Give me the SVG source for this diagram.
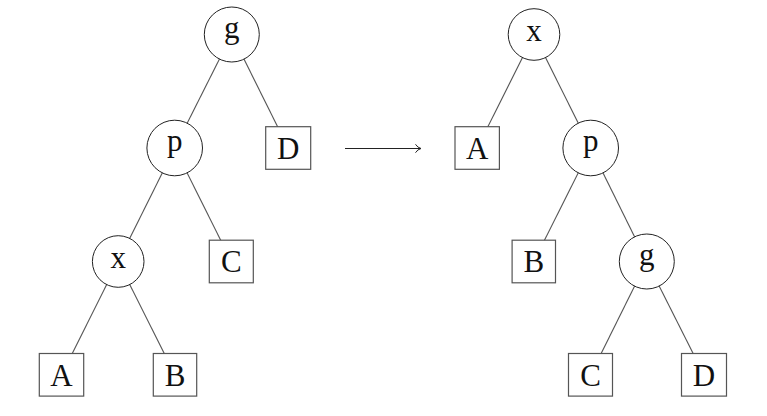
<svg xmlns="http://www.w3.org/2000/svg" width="767" height="416" viewBox="0 0 767 416">
<style>
.e{stroke:#555;stroke-width:1.1;fill:none}
.c{fill:#fff;stroke:#222;stroke-width:1}
.b{fill:#fff;stroke:#555;stroke-width:1.2}
text{font-family:"Liberation Serif","Times New Roman",serif;font-size:31px;fill:#111;text-anchor:middle}
</style>
<rect width="767" height="416" fill="#fff"/>
<g id="connectors">
<line class="e" x1="231.8" y1="34.5" x2="174.7" y2="148"/>
<line class="e" x1="231.8" y1="34.5" x2="288.2" y2="148"/>
<line class="e" x1="174.7" y1="148" x2="118.2" y2="261.5"/>
<line class="e" x1="174.7" y1="148" x2="231.3" y2="261.5"/>
<line class="e" x1="118.2" y1="261.5" x2="61.5" y2="375"/>
<line class="e" x1="118.2" y1="261.5" x2="175" y2="375"/>
<line class="e" x1="534" y1="34.5" x2="477.2" y2="148"/>
<line class="e" x1="534" y1="34.5" x2="590.7" y2="148"/>
<line class="e" x1="590.7" y1="148" x2="533.8" y2="261.5"/>
<line class="e" x1="590.7" y1="148" x2="646.8" y2="261.5"/>
<line class="e" x1="646.8" y1="261.5" x2="590.5" y2="375"/>
<line class="e" x1="646.8" y1="261.5" x2="704" y2="375"/>
<g id="arrow">
<line x1="345" y1="148.5" x2="420.5" y2="148.5" stroke="#222" stroke-width="1"/>
<path d="M415.5,144.3 Q417.5,147.6 421,148.5 Q417.5,149.4 415.5,152.7" fill="none" stroke="#222" stroke-width="1"/>
</g>
</g>
<g id="L-g"><circle class="c" cx="231.8" cy="34.5" r="27.5"/><text x="231.8" y="37.5">g</text></g>
<g id="L-p"><circle class="c" cx="174.7" cy="148" r="27.8"/><text x="174.7" y="151">p</text></g>
<g id="L-D"><rect class="b" x="265.7" y="126.7" width="45" height="42.6"/><text x="288.2" y="158.8">D</text></g>
<g id="L-x"><circle class="c" cx="118.2" cy="261.5" r="25.8"/><text x="118.2" y="268">x</text></g>
<g id="L-C"><rect class="b" x="209.3" y="240.2" width="44" height="42.6"/><text x="231.3" y="272.3">C</text></g>
<g id="L-A"><rect class="b" x="39.3" y="353.5" width="44.4" height="42.6"/><text x="61.5" y="385.6">A</text></g>
<g id="L-B"><rect class="b" x="153.3" y="353.5" width="43.4" height="42.6"/><text x="175" y="385.6">B</text></g>
<g id="R-x"><circle class="c" cx="534" cy="34.5" r="25.8"/><text x="534" y="41">x</text></g>
<g id="R-A"><rect class="b" x="455" y="126.7" width="44.4" height="42.6"/><text x="477.2" y="158.8">A</text></g>
<g id="R-p"><circle class="c" cx="590.7" cy="148" r="27.8"/><text x="590.7" y="151">p</text></g>
<g id="R-B"><rect class="b" x="512.1" y="240.2" width="43.4" height="42.6"/><text x="533.8" y="272.3">B</text></g>
<g id="R-g"><circle class="c" cx="646.8" cy="261.5" r="27.5"/><text x="646.8" y="264.5">g</text></g>
<g id="R-C"><rect class="b" x="568.5" y="353.5" width="44" height="42.6"/><text x="590.5" y="385.6">C</text></g>
<g id="R-D"><rect class="b" x="681.5" y="353.5" width="45" height="42.6"/><text x="704" y="385.6">D</text></g>
</svg>
